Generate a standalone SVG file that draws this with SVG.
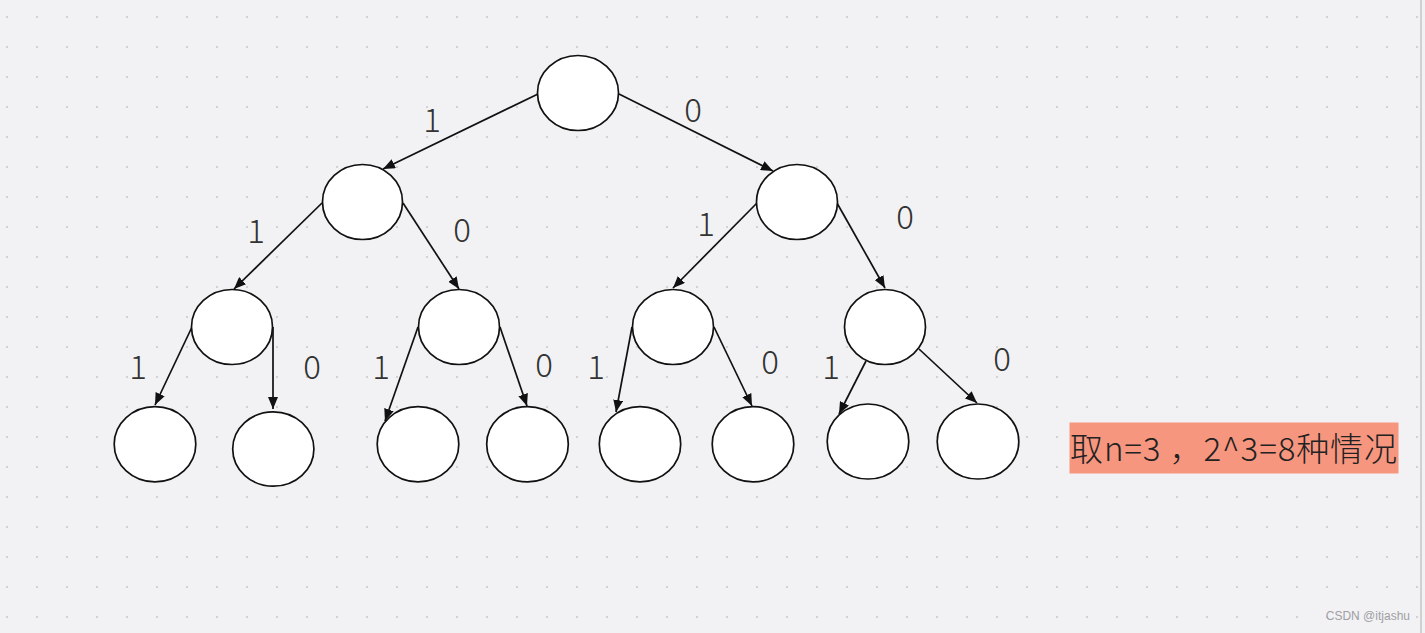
<svg xmlns="http://www.w3.org/2000/svg" width="1425" height="633" viewBox="0 0 1425 633">
<defs>
<pattern id="dots" x="0" y="0" width="30" height="30" patternUnits="userSpaceOnUse">
<rect x="6" y="16" width="2" height="2" fill="#d2d2d6"/>
</pattern>
<marker id="arr" viewBox="0 0 12 10" refX="12" refY="5" markerWidth="12" markerHeight="10" markerUnits="userSpaceOnUse" orient="auto">
<path d="M0,0 L12,5 L0,10 Z" fill="#111"/>
</marker>
<style>
.n ellipse{fill:#fff;stroke:#111;stroke-width:1.7}
.e path{fill:none;stroke:#111;stroke-width:1.7;marker-end:url(#arr)}
.lb{font-family:"Noto Sans CJK SC","Noto Sans",sans-serif;font-size:33px;font-weight:300;fill:#333;text-anchor:middle}
</style>
</defs>
<rect width="1425" height="633" fill="#f2f2f4"/>
<rect width="1420" height="633" fill="url(#dots)"/>
<line x1="1421" y1="0" x2="1421" y2="633" stroke="#c4c4c8" stroke-width="1.5"/>

<g id="connectors" class="e">
<path d="M538,94 L383,169"/>
<path d="M619,94 L773,171"/>
<path d="M322,203 L234,289"/>
<path d="M403,203 L459,289"/>
<path d="M757,203 L673,288"/>
<path d="M837,203 L885,288"/>
<path d="M192,327 L155,405"/>
<path d="M273,327 L273,409"/>
<path d="M418,327 L385,421"/>
<path d="M500,327 L527,406"/>
<path d="M632,327 L616,412"/>
<path d="M714,327 L752,406"/>
<path d="M866,361 L839,414"/>
<path d="M919,349 L977,403"/>
</g>

<g id="edge-labels" class="lb">
<text x="432" y="132">1</text>
<text x="693" y="122">0</text>
<text x="256" y="243">1</text>
<text x="462" y="242">0</text>
<text x="706" y="236">1</text>
<text x="905" y="229">0</text>
<text x="138" y="379">1</text>
<text x="312" y="379">0</text>
<text x="381" y="379">1</text>
<text x="544" y="377">0</text>
<text x="596" y="379">1</text>
<text x="770" y="374">0</text>
<text x="831" y="379">1</text>
<text x="1002" y="371">0</text>
</g>

<g id="root" class="n"><ellipse cx="578" cy="93" rx="40.5" ry="37.5"/></g>
<g id="n1" class="n"><ellipse cx="362.5" cy="202" rx="40" ry="37.5"/></g>
<g id="n0" class="n"><ellipse cx="797" cy="202" rx="40.5" ry="37.5"/></g>
<g id="n11" class="n"><ellipse cx="232" cy="327" rx="40.5" ry="37.5"/></g>
<g id="n10" class="n"><ellipse cx="459" cy="327" rx="40.5" ry="37.5"/></g>
<g id="n01" class="n"><ellipse cx="673" cy="327" rx="40.5" ry="37.5"/></g>
<g id="n00" class="n"><ellipse cx="885" cy="327" rx="40.5" ry="37.5"/></g>
<g id="l111" class="n"><ellipse cx="155" cy="444.3" rx="40.8" ry="37.6"/></g>
<g id="l110" class="n"><ellipse cx="273.3" cy="449" rx="40.6" ry="37.2"/></g>
<g id="l101" class="n"><ellipse cx="418" cy="444.3" rx="40.8" ry="37.6"/></g>
<g id="l100" class="n"><ellipse cx="527.5" cy="444.3" rx="40.8" ry="37.6"/></g>
<g id="l011" class="n"><ellipse cx="640" cy="444.3" rx="40.7" ry="37.6"/></g>
<g id="l010" class="n"><ellipse cx="753" cy="444.3" rx="40.8" ry="37.6"/></g>
<g id="l001" class="n"><ellipse cx="868" cy="441.5" rx="40.8" ry="37.5"/></g>
<g id="l000" class="n"><ellipse cx="978" cy="441.5" rx="40.8" ry="37.5"/></g>

<g id="note">
<rect x="1069.5" y="422.5" width="329" height="51" fill="#f7967f"/>
<text x="1070" y="461" font-family="'Noto Sans CJK SC','Noto Sans',sans-serif" font-size="33" font-weight="300" fill="#222" textLength="327" lengthAdjust="spacing">取n=3 ，2^3=8种情况</text>
</g>

<text x="1410" y="620" text-anchor="end" font-family="'Liberation Sans',sans-serif" font-size="12" fill="#a0a0a4">CSDN @itjashu</text>
</svg>
